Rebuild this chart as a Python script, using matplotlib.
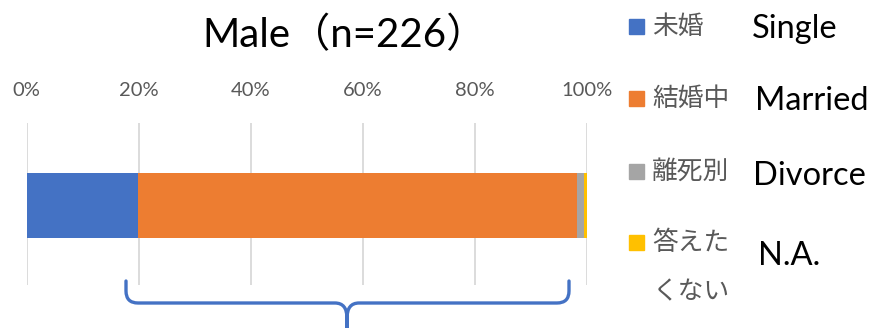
import matplotlib.pyplot as plt
from matplotlib.path import Path
from matplotlib.patches import PathPatch, Rectangle

# data
status_jp = ['未婚', '結婚中', '離死別', '答えた\nくない']
status_en = ['Single', 'Married', 'Divorce', 'N.A.']
share = [19.9, 78.3, 1.3, 0.5]          # percent of n=226
colors = ['#4472C4', '#ED7D31', '#A5A5A5', '#FFC000']
ticks = [0, 20, 40, 60, 80, 100]

W, H = 876, 328
fig = plt.figure(figsize=(W / 100, H / 100), dpi=100)

def px(x, y):
    return x / W, 1 - y / H

# bar axes: 0% at x=26.5, 100% at x=587, grid from y=123 to 285
ax = fig.add_axes([26.5 / W, 1 - 285 / H, (587 - 26.5) / W, 162 / H])
left = 0
for v, c in zip(share, colors):
    ax.barh(0, v, left=left, height=0.401, color=c, zorder=3)
    left += v
ax.set_xlim(0, 100)
ax.set_ylim(-0.4907, 0.5093)
ax.set_xticks(ticks)
ax.set_xticklabels(['%d%%' % t for t in ticks], family='Lato', fontsize=14.5, color='#595959')
ax.xaxis.tick_top()
ax.tick_params(axis='x', length=0, pad=17)
ax.set_yticks([])
for s in ax.spines.values():
    s.set_visible(False)
ax.grid(axis='x', color='#D9D9D9', lw=1.3, zorder=0)

# title
fig.text(*px(345, 35), 'Male（n=226）', family=['Lato', 'Noto Sans CJK JP'],
         fontsize=29, ha='center', va='center')

# legend with English labels
leg_y = [27, 99, 172, 243]
en_y = [29, 101, 176, 256]
en_x = [752, 755, 753, 758]
for i in range(4):
    x0, y0 = px(629, leg_y[i] + 7)
    fig.patches.append(Rectangle((x0, y0), 15 / W, 15 / H, color=colors[i],
                                 transform=fig.transFigure, figure=fig))
    for k, line in enumerate(status_jp[i].split('\n')):
        fig.text(*px(652, leg_y[i] + k * 49), line, family='Noto Sans CJK JP',
                 fontsize=18.5, color='#595959', ha='left', va='center')
    fig.text(*px(en_x[i], en_y[i]), status_en[i], family='Lato', fontsize=23.5,
             color='black', ha='left', va='center')

# brace below the bar
ov = fig.add_axes([0, 0, 1, 1])
ov.set_xlim(0, W)
ov.set_ylim(H, 0)
ov.axis('off')
verts = [(126, 281), (126, 291), (126, 303), (138, 303), (335, 303), (347, 303), (347, 318), (347, 335),
         (347, 335), (347, 318), (347, 303), (359, 303), (557, 303), (569, 303), (569, 291), (569, 281)]
codes = [Path.MOVETO, Path.LINETO, Path.CURVE3, Path.CURVE3, Path.LINETO, Path.CURVE3, Path.CURVE3, Path.LINETO,
         Path.MOVETO, Path.LINETO, Path.CURVE3, Path.CURVE3, Path.LINETO, Path.CURVE3, Path.CURVE3, Path.LINETO]
ov.add_patch(PathPatch(Path(verts, codes), fill=False, edgecolor='#4472C4', lw=2.4, capstyle='round'))

fig.savefig('out.png', dpi=100)
